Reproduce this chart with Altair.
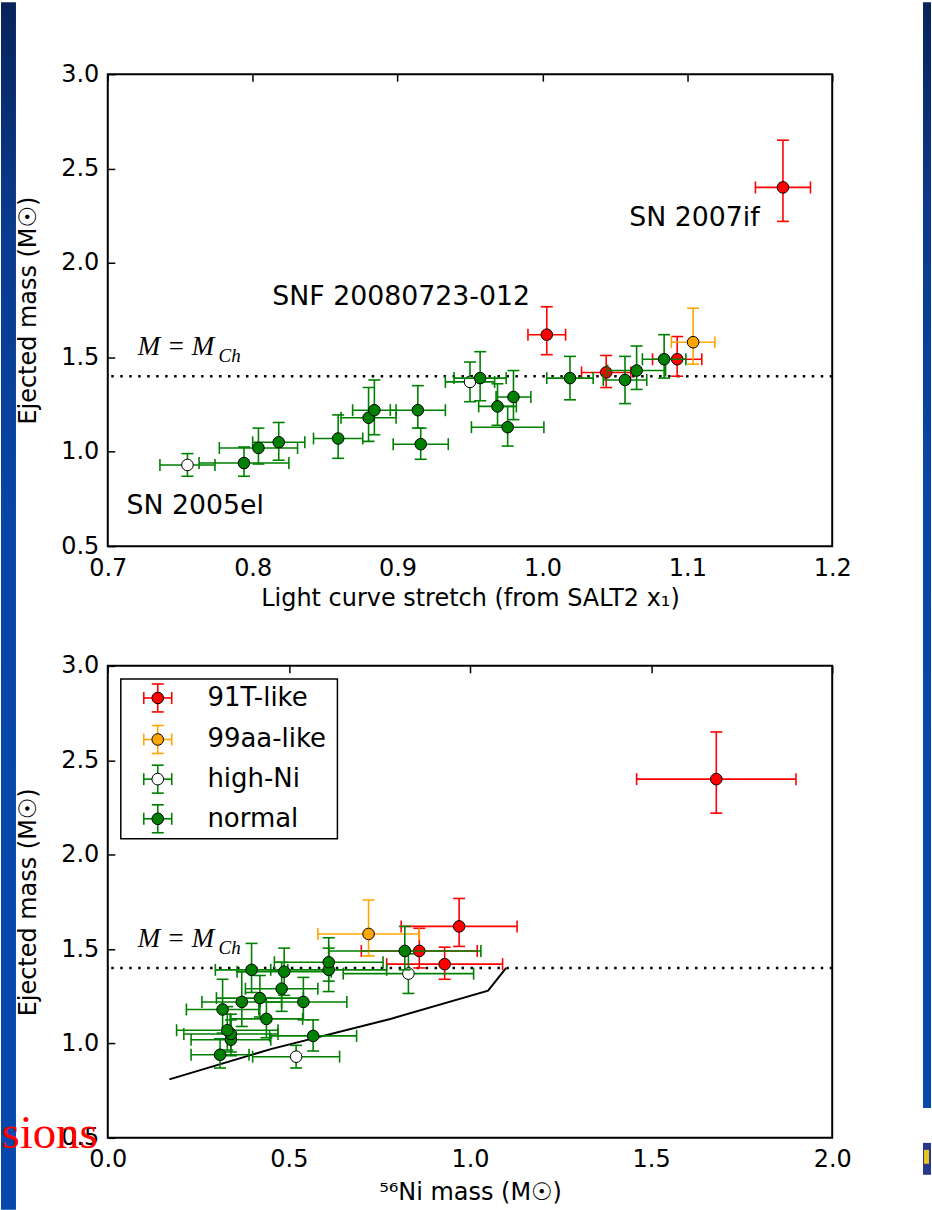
import altair as alt
import pandas as pd

# ---- supernova sample -------------------------------------------------------
sn_class = ["high-Ni", "normal", "normal", "normal", "normal", "normal", "normal",
            "normal", "normal", "high-Ni", "normal", "normal", "normal", "normal",
            "91T-like", "normal", "91T-like", "normal", "normal", "normal",
            "91T-like", "99aa-like", "91T-like"]
stretch = [0.755, 0.794, 0.804, 0.818, 0.859, 0.880, 0.884, 0.914, 0.916, 0.950,
           0.957, 0.969, 0.980, 0.976, 1.003, 1.019, 1.044, 1.057, 1.065, 1.084,
           1.093, 1.104, 1.166]
stretch_err = [0.019, 0.031, 0.027, 0.018, 0.017, 0.019, 0.015, 0.019, 0.019, 0.017,
               0.018, 0.013, 0.012, 0.025, 0.013, 0.016, 0.017, 0.015, 0.020, 0.015,
               0.017, 0.015, 0.019]
ni_mass = [0.52, 0.31, 0.34, 0.34, 0.33, 0.317, 0.37, 0.54, 0.567, 0.83,
           0.397, 0.42, 0.48, 0.438, 0.97, 0.61, 0.93, 0.487, 0.61, 0.82,
           0.86, 0.72, 1.68]
ni_err = [0.12, 0.08, 0.11, 0.13, 0.14, 0.10, 0.11, 0.12, 0.12, 0.18,
          0.10, 0.12, 0.10, 0.10, 0.16, 0.16, 0.16, 0.13, 0.15, 0.21,
          0.16, 0.14, 0.22]
ej_mass = [0.93, 0.94, 1.02, 1.05, 1.07, 1.18, 1.22, 1.22, 1.04, 1.37,
           1.39, 1.24, 1.29, 1.13, 1.62, 1.39, 1.42, 1.38, 1.43, 1.49,
           1.49, 1.58, 2.40]
ej_err_up = [0.06, 0.085, 0.105, 0.105, 0.125, 0.16, 0.16, 0.13, 0.085, 0.105,
             0.14, 0.12, 0.14, 0.11, 0.148, 0.115, 0.09, 0.125, 0.13, 0.13,
             0.12, 0.18, 0.25]
ej_err_dn = [0.06, 0.07, 0.085, 0.095, 0.105, 0.125, 0.13, 0.095, 0.08, 0.105,
             0.12, 0.10, 0.12, 0.10, 0.106, 0.115, 0.08, 0.125, 0.10, 0.10,
             0.09, 0.116, 0.18]

# drawing order and colours of each class
classes = ["91T-like", "99aa-like", "high-Ni", "normal"]
bar_colors = {"91T-like": "#ff0000", "99aa-like": "#ffa500",
              "high-Ni": "#008000", "normal": "#008000"}
face_colors = {"91T-like": "#ff0000", "99aa-like": "#ffa500",
               "high-Ni": "#ffffff", "normal": "#008000"}

# Chandrasekhar mass reference line
m_ch = [1.4]

# model curve in the Ni-mass panel
model_ni = [0.17, 0.45, 0.78, 1.05, 1.10]
model_mass = [0.81, 0.97, 1.13, 1.28, 1.40]

# annotations of the stretch panel
note_text = ["SN 2007if", "SNF 20080723-012", "SN 2005el"]
note_x = [1.060, 0.8136, 0.713]
note_y = [2.197, 1.779, 0.669]

# legend of the Ni-mass panel
legend_labels = ["91T-like", "99aa-like", "high-Ni", "normal"]
legend_rows = [2.83, 2.61, 2.40, 2.19]
legend_box_x = [0.036, 0.634]
legend_box_y = [2.084, 2.931]
legend_marker_x = 0.138
legend_text_x = 0.275
legend_dx = 0.0386
legend_dy = 0.074

stretch_ticks = [0.7, 0.8, 0.9, 1.0, 1.1, 1.2]
ni_ticks = [0.0, 0.5, 1.0, 1.5, 2.0]
mass_ticks = [0.5, 1.0, 1.5, 2.0, 2.5, 3.0]

FONT = "DejaVu Sans"
MATH_FONT = "Liberation Serif"
W, H = 726, 473
LW = 1.6
CAP = 12

df = pd.DataFrame({
    "cls": sn_class, "stretch": stretch, "stretch_err": stretch_err,
    "ni": ni_mass, "ni_err": ni_err, "mass": ej_mass,
    "up": ej_err_up, "dn": ej_err_dn,
})
df["s_lo"] = df["stretch"] - df["stretch_err"]
df["s_hi"] = df["stretch"] + df["stretch_err"]
df["ni_lo"] = df["ni"] - df["ni_err"]
df["ni_hi"] = df["ni"] + df["ni_err"]
df["m_lo"] = df["mass"] - df["dn"]
df["m_hi"] = df["mass"] + df["up"]

one_row = pd.DataFrame({"k": [0]})


def scales(xdomain):
    xs = alt.Scale(domain=xdomain, nice=False, zero=False)
    ys = alt.Scale(domain=[0.5, 3.0], nice=False, zero=False)
    return xs, ys


def errorbar_layers(xcol, xlo, xhi, xs, ys, frame):
    layers = []
    for cls in classes:
        sub = frame[frame["cls"] == cls]
        base = alt.Chart(sub)
        c = bar_colors[cls]
        layers.append(base.mark_rule(color=c, strokeWidth=LW).encode(
            x=alt.X(xlo, type="quantitative", scale=xs, axis=None),
            x2=alt.X2(xhi),
            y=alt.Y("mass:Q", scale=ys, axis=None)))
        layers.append(base.mark_rule(color=c, strokeWidth=LW).encode(
            x=alt.X(xcol, type="quantitative", scale=xs, axis=None),
            y=alt.Y("m_lo:Q", scale=ys, axis=None),
            y2=alt.Y2("m_hi")))
        layers.append(base.transform_fold([xlo, xhi], as_=["end", "xv"]).mark_tick(
            orient="vertical", size=CAP, thickness=LW, color=c, opacity=1).encode(
            x=alt.X("xv:Q", scale=xs, axis=None),
            y=alt.Y("mass:Q", scale=ys, axis=None)))
        layers.append(base.transform_fold(["m_lo", "m_hi"], as_=["end", "yv"]).mark_tick(
            orient="horizontal", size=CAP, thickness=LW, color=c, opacity=1).encode(
            x=alt.X(xcol, type="quantitative", scale=xs, axis=None),
            y=alt.Y("yv:Q", scale=ys, axis=None)))
        layers.append(base.mark_circle(size=135, fill=face_colors[cls], stroke="black",
                                       strokeWidth=1, opacity=1).encode(
            x=alt.X(xcol, type="quantitative", scale=xs, axis=None),
            y=alt.Y("mass:Q", scale=ys, axis=None)))
    return layers


def frame_layers(xcol, xs, ys, xticks, xtitle, frame, title_pad):
    main_axes = alt.Chart(frame).mark_point(opacity=0).encode(
        x=alt.X(xcol, type="quantitative", scale=xs,
                axis=alt.Axis(values=xticks, format=".1f", title=xtitle,
                              labelPadding=10, titlePadding=title_pad)),
        y=alt.Y("mass:Q", scale=ys,
                axis=alt.Axis(values=mass_ticks, format=".1f",
                              title="Ejected mass (M\u2609)",
                              labelPadding=9, titlePadding=20)))
    far_axes = alt.Chart(frame).mark_point(opacity=0).encode(
        x=alt.X(xcol, type="quantitative", scale=xs,
                axis=alt.Axis(values=xticks, orient="top", labels=False, title=None)),
        y=alt.Y("mass:Q", scale=ys,
                axis=alt.Axis(values=mass_ticks, orient="right", labels=False, title=None)))
    return [main_axes, far_axes]


def mch_layers(x_at, xs, ys):
    line = alt.Chart(pd.DataFrame({"m": m_ch})).mark_rule(
        color="black", strokeWidth=2.5, strokeDash=[2.5, 6.5]).encode(
        y=alt.Y("m:Q", scale=ys, axis=None))
    lab = pd.DataFrame({"x": [x_at], "y": [1.512]})
    big = alt.Chart(lab).mark_text(text="M = M", font=MATH_FONT, fontStyle="italic",
                                   fontSize=27, align="left", baseline="alphabetic",
                                   color="black").encode(
        x=alt.X("x:Q", scale=xs, axis=None), y=alt.Y("y:Q", scale=ys, axis=None))
    sub = alt.Chart(lab).mark_text(text="Ch", font=MATH_FONT, fontStyle="italic",
                                   fontSize=19, align="left", baseline="alphabetic",
                                   dx=81, dy=7, color="black").encode(
        x=alt.X("x:Q", scale=xs, axis=None), y=alt.Y("y:Q", scale=ys, axis=None))
    return [line, big, sub]


strip_fill = alt.LinearGradient(
    gradient="linear", x1=0, y1=0, x2=0, y2=1,
    stops=[alt.GradientStop(color="#08235a", offset=0),
           alt.GradientStop(color="#0a3a8c", offset=0.18),
           alt.GradientStop(color="#0746a8", offset=0.45),
           alt.GradientStop(color="#0549ae", offset=1)])

# ---- stretch panel ---------------------------------------------------------
xs1, ys1 = scales([0.7, 1.2])
top_layers = []
top_layers.append(alt.Chart(one_row).mark_rect(fill=strip_fill).encode(
    x=alt.value(-107), x2=alt.value(-92), y=alt.value(-72), y2=alt.value(1138)))
top_layers.append(alt.Chart(one_row).mark_rect(fill=strip_fill).encode(
    x=alt.value(817), x2=alt.value(825), y=alt.value(-72), y2=alt.value(1036)))
top_layers.append(alt.Chart(one_row).mark_rect(fill="#27388a").encode(
    x=alt.value(817), x2=alt.value(825), y=alt.value(1071), y2=alt.value(1103)))
top_layers.append(alt.Chart(one_row).mark_rect(fill="#e8c21e").encode(
    x=alt.value(818), x2=alt.value(823), y=alt.value(1078), y2=alt.value(1092)))
top_layers += frame_layers("stretch", xs1, ys1, stretch_ticks,
                           "Light curve stretch (from SALT2 x\u2081)", df, 7)
top_layers += mch_layers(0.7207, xs1, ys1)
top_layers += errorbar_layers("stretch", "s_lo", "s_hi", xs1, ys1, df)
notes = pd.DataFrame({"t": note_text, "x": note_x, "y": note_y})
top_layers.append(alt.Chart(notes).mark_text(
    font=FONT, fontSize=26.8, align="left", baseline="alphabetic", color="black").encode(
    x=alt.X("x:Q", scale=xs1, axis=None), y=alt.Y("y:Q", scale=ys1, axis=None),
    text="t:N"))

top = alt.layer(*top_layers).resolve_axis(x="independent", y="independent").properties(
    width=W, height=H)

# ---- Ni-mass panel ---------------------------------------------------------
xs2, ys2 = scales([0.0, 2.0])
bot_layers = []
bot_layers += frame_layers("ni", xs2, ys2, ni_ticks, "\u2075\u2076Ni mass (M\u2609)", df, 9)
bot_layers += mch_layers(0.0826, xs2, ys2)
bot_layers.append(alt.Chart(pd.DataFrame({"x": model_ni, "y": model_mass})).mark_line(
    color="black", strokeWidth=2).encode(
    x=alt.X("x:Q", scale=xs2, axis=None), y=alt.Y("y:Q", scale=ys2, axis=None)))
bot_layers += errorbar_layers("ni", "ni_lo", "ni_hi", xs2, ys2, df)

# legend drawn inside the panel
box = pd.DataFrame({"x": [legend_box_x[0]], "x2": [legend_box_x[1]],
                    "y": [legend_box_y[0]], "y2": [legend_box_y[1]]})
bot_layers.append(alt.Chart(box).mark_rect(fill="white", stroke="black", strokeWidth=1.5).encode(
    x=alt.X("x:Q", scale=xs2, axis=None), x2="x2:Q",
    y=alt.Y("y:Q", scale=ys2, axis=None), y2="y2:Q"))
leg = pd.DataFrame({"cls": legend_labels, "ni": [legend_marker_x] * 4, "mass": legend_rows})
leg["ni_lo"] = leg["ni"] - legend_dx
leg["ni_hi"] = leg["ni"] + legend_dx
leg["m_lo"] = leg["mass"] - legend_dy
leg["m_hi"] = leg["mass"] + legend_dy
bot_layers += errorbar_layers("ni", "ni_lo", "ni_hi", xs2, ys2, leg)
leg["tx"] = legend_text_x
bot_layers.append(alt.Chart(leg).mark_text(
    font=FONT, fontSize=26, align="left", baseline="middle", color="black").encode(
    x=alt.X("tx:Q", scale=xs2, axis=None), y=alt.Y("mass:Q", scale=ys2, axis=None),
    text="cls:N"))

# slide text running in from the left margin
bot_layers.append(alt.Chart(one_row).mark_text(
    text="sions", font=MATH_FONT, fontSize=47, color="#ff0000",
    align="right", baseline="alphabetic").encode(
    x=alt.value(-10), y=alt.value(483)))

bottom = alt.layer(*bot_layers).resolve_axis(x="independent", y="independent").properties(
    width=W, height=H)

chart = alt.vconcat(top, bottom, spacing=120, bounds="flush").properties(
    padding=0, background="white"
).configure_view(
    stroke="black", strokeWidth=2
).configure_axis(
    labelFont=FONT, labelFontSize=24, labelColor="black",
    titleFont=FONT, titleFontSize=24, titleFontWeight="normal", titleColor="black",
    domain=False, ticks=False, grid=True, gridColor="black", gridOpacity=1,
    gridWidth=1.5, gridDash=[7, 3000], labelFlush=False
)

chart.save("out.html", embed_options={"renderer": "svg", "actions": False})
